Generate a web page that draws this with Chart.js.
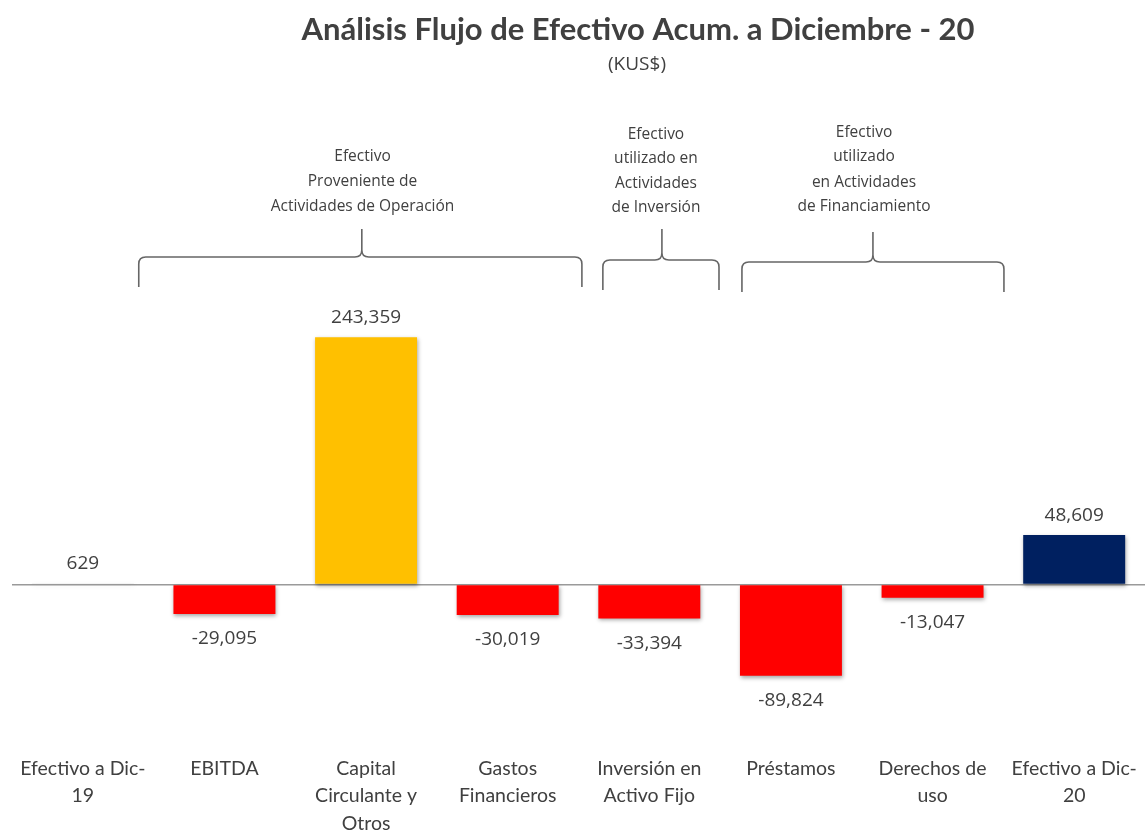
<!DOCTYPE html>
<html>
<head>
<meta charset="utf-8">
<script src="https://cdn.jsdelivr.net/npm/chart.js@4.4.1/dist/chart.umd.min.js"></script>
<style>
  html,body{margin:0;padding:0;background:#fff;}
  #wrap{position:relative;width:1145px;height:831px;}
</style>
</head>
<body>
<div id="wrap"><canvas id="c" width="1145" height="831"></canvas></div>
<script>
const categories = [
  ["Efectivo a Dic-","19"],
  ["EBITDA"],
  ["Capital","Circulante y","Otros"],
  ["Gastos","Financieros"],
  ["Inversión en","Activo Fijo"],
  ["Préstamos"],
  ["Derechos de","uso"],
  ["Efectivo a Dic-","20"]
];
const values = [629, -29095, 243359, -30019, -33394, -89824, -13047, 48609];
const barColors = ["#D9D9D9", "#FF0000", "#FFC000", "#FF0000", "#FF0000", "#FF0000", "#FF0000", "#002060"];
const titleText = "Análisis Flujo de Efectivo Acum. a Diciembre - 20";
const subtitleText = "(KUS$)";
const groupLabels = [
  ["Efectivo","Proveniente de","Actividades de Operación"],
  ["Efectivo","utilizado en","Actividades","de Inversión"],
  ["Efectivo","utilizado","en Actividades","de Financiamiento"]
];

const FONT = "Lato, 'Open Sans', sans-serif";
const FONT2 = "'Open Sans', 'Noto Sans', sans-serif";
const TXT = "#404040";

// layout of the brackets (fractional category positions + pixel heights)
const braceLayout = [
  {x1:0.395, x2:3.524, tip:1.970, text:1.975, yH:257, yEnd:287, yTip:229, textY:[157,182,207]},
  {x1:3.672, x2:4.492, tip:4.089, text:4.047, yH:260, yEnd:290, yTip:229, textY:[135,159,184,208]},
  {x1:4.654, x2:6.504, tip:5.579, text:5.516, yH:262, yEnd:292, yTip:232, textY:[133,157,183,207]}
];

function fmt(v){ return v.toLocaleString('en-US'); }

const shadowPlugin = {
  id:'shadow',
  beforeDatasetsDraw(chart){
    const ctx = chart.ctx; ctx.save();
    ctx.shadowColor = 'rgba(0,0,0,0.35)';
    ctx.shadowBlur = 4; ctx.shadowOffsetX = 1; ctx.shadowOffsetY = 2;
  },
  afterDatasetsDraw(chart){ chart.ctx.restore(); }
};

function brace(ctx, x1, x2, xm, yH, yEnd, yTip, r){
  ctx.beginPath();
  ctx.moveTo(x1, yEnd);
  ctx.lineTo(x1, yH + r);
  ctx.quadraticCurveTo(x1, yH, x1 + r, yH);
  ctx.lineTo(xm - r, yH);
  ctx.quadraticCurveTo(xm, yH, xm, yH - r);
  ctx.lineTo(xm, yTip);
  ctx.moveTo(xm, yH - r);
  ctx.quadraticCurveTo(xm, yH, xm + r, yH);
  ctx.lineTo(x2 - r, yH);
  ctx.quadraticCurveTo(x2, yH, x2, yH + r);
  ctx.lineTo(x2, yEnd);
  ctx.stroke();
}

const decorPlugin = {
  id:'decor',
  afterDraw(chart){
    const ctx = chart.ctx;
    const xs = chart.scales.x;
    ctx.save();
    // title
    ctx.fillStyle = TXT;
    ctx.textAlign = 'center'; ctx.textBaseline = 'middle';
    ctx.font = "bold 31px " + FONT;
    ctx.fillText(titleText, 638, 30);
    ctx.font = "19px " + FONT2;
    ctx.fillText(subtitleText, 637, 65);
    // brackets
    ctx.strokeStyle = '#666666'; ctx.lineWidth = 1.6;
    ctx.font = "15.5px " + FONT2;
    braceLayout.forEach((b, i) => {
      brace(ctx, xs.getPixelForValue(b.x1), xs.getPixelForValue(b.x2), xs.getPixelForValue(b.tip), b.yH, b.yEnd, b.yTip, 7);
      const tx = xs.getPixelForValue(b.text);
      groupLabels[i].forEach((line, j) => ctx.fillText(line, tx, b.textY[j]));
    });
    // value labels
    ctx.font = "19px " + FONT2;
    const meta = chart.getDatasetMeta(0);
    meta.data.forEach((bar, i) => {
      const v = values[i];
      const y = v >= 0 ? bar.y - 20 : bar.y + 25;
      ctx.fillText(fmt(v), bar.x, y);
    });
    ctx.restore();
  }
};

new Chart(document.getElementById('c'), {
  type:'bar',
  data:{
    labels: categories,
    datasets:[{
      data: values,
      backgroundColor: barColors,
      borderWidth: 0,
      barPercentage: 0.9,
      categoryPercentage: 0.8
    }]
  },
  options:{
    responsive:false,
    animation:false,
    devicePixelRatio:1,
    layout:{padding:{top:300, left:12, right:0, bottom:-14}},
    plugins:{legend:{display:false}, title:{display:false}, tooltip:{enabled:false}},
    scales:{
      x:{
        grid:{display:false, drawTicks:false},
        border:{display:false},
        ticks:{color:TXT, font:{family:FONT, size:19.5, lineHeight:1.4}, padding:8, maxRotation:0, autoSkip:false}
      },
      y:{
        display:true,
        min:-160000, max:280000,
        grid:{
          drawTicks:false,
          color: c => c.tick && c.tick.value === 0 ? '#9a9a9a' : 'rgba(0,0,0,0)',
          lineWidth: 1.5
        },
        border:{display:false},
        ticks:{display:false, stepSize:20000}
      }
    }
  },
  plugins:[shadowPlugin, decorPlugin]
});
</script>
</body>
</html>
